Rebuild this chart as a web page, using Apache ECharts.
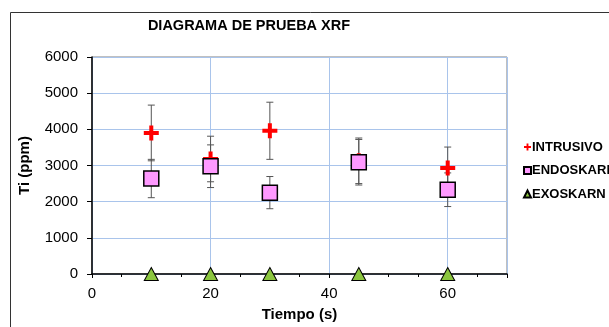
<!DOCTYPE html>
<html><head><meta charset="utf-8">
<script src="https://cdn.jsdelivr.net/npm/echarts@6/dist/echarts.min.js"></script>
<style>html,body{margin:0;padding:0;background:#fff}#c{width:609px;height:327px}</style>
</head><body><div id="c"></div>
<script>
const titleText = 'DIAGRAMA DE PRUEBA XRF';
const xName = 'Tiempo (s)';
const yName = 'Ti (ppm)';
const seriesNames = ['INTRUSIVO', 'ENDOSKARN', 'EXOSKARN'];
const intrusivoX = [10, 20, 30, 45, 60];
const intrusivoY = [3900, 3180, 3960, 3130, 2930];
const intrusivoErr = [770, 630, 790, 630, 580];
const endoskarnX = [10, 20, 30, 45, 60];
const endoskarnY = [2640, 2980, 2250, 3090, 2330];
const endoskarnErr = [530, 590, 445, 630, 465];
const exoskarnX = [10, 20, 30, 45, 60];
const exoskarnY = [0, 0, 0, 0, 0];

const crossPath = 'path://M5.5,0H9.5V5.5H15V9.5H9.5V15H5.5V9.5H0V5.5H5.5Z';
const font = 'Arial, "Liberation Sans", sans-serif';

function errData(xs, ys, es) {
  return xs.map((x, i) => [x, ys[i] - es[i], ys[i] + es[i]]);
}
function errRender(params, api) {
  const x = api.value(0);
  const lo = api.coord([x, api.value(1)]);
  const hi = api.coord([x, api.value(2)]);
  const w = 3.5;
  const st = {stroke: '#555', lineWidth: 1};
  return {type: 'group', children: [
    {type: 'line', shape: {x1: lo[0], y1: lo[1], x2: hi[0], y2: hi[1]}, style: st},
    {type: 'line', shape: {x1: lo[0]-w, y1: lo[1], x2: lo[0]+w, y2: lo[1]}, style: st},
    {type: 'line', shape: {x1: hi[0]-w, y1: hi[1], x2: hi[0]+w, y2: hi[1]}, style: st}
  ]};
}

const chart = echarts.init(document.getElementById('c'));
chart.setOption({
  animation: false,
  textStyle: {fontFamily: font},
  title: {text: titleText, left: 249, top: 18, textAlign: 'center', padding: 0,
    textStyle: {fontFamily: font, fontSize: 14.5, fontWeight: 'bold', color: '#000'}},
  graphic: [{type: 'rect', shape: {x: 10.5, y: 12.5, width: 620, height: 330},
    style: {fill: 'none', stroke: '#333', lineWidth: 1}, z: -10}],
  legend: {
    orient: 'vertical', left: 523, top: 140, padding: 0, itemGap: 9.5, itemWidth: 7, itemHeight: 7,
    data: [
      {name: seriesNames[0], icon: crossPath},
      {name: seriesNames[1], icon: 'rect'},
      {name: seriesNames[2], icon: 'triangle'}
    ],
    textStyle: {fontFamily: font, fontSize: 13, lineHeight: 14, fontWeight: 'bold', color: '#000', padding: [0,0,0,-4]}
  },
  grid: {left: 92, top: 57, width: 415, height: 220, show: true, borderColor: '#808080', borderWidth: 1},
  xAxis: {
    type: 'value', min: 0, max: 70, interval: 20,
    name: xName, nameLocation: 'middle', nameGap: 33,
    nameTextStyle: {fontFamily: font, fontSize: 15, fontWeight: 'bold', color: '#000'},
    axisLine: {show: true, lineStyle: {color: '#000', width: 1.5}},
    axisTick: {show: true, length: 4, lineStyle: {color: '#000'}},
    minorTick: {show: true, splitNumber: 4, length: 3, lineStyle: {color: '#000'}},
    axisLabel: {fontFamily: font, fontSize: 15, color: '#000', showMaxLabel: false, margin: 12},
    splitLine: {show: true, lineStyle: {color: '#A9C4EB', width: 1}}
  },
  yAxis: {
    type: 'value', min: 0, max: 6000, interval: 1000,
    name: yName, nameLocation: 'middle', nameGap: 60,
    nameTextStyle: {fontFamily: font, fontSize: 15, fontWeight: 'bold', color: '#000'},
    axisLine: {show: true, lineStyle: {color: '#000', width: 1.5}},
    axisTick: {show: true, length: 5, lineStyle: {color: '#000'}},
    axisLabel: {fontFamily: font, fontSize: 15, color: '#000', margin: 14, formatter: v => String(v)},
    splitLine: {show: true, lineStyle: {color: '#A9C4EB', width: 1}}
  },
  series: [
    {type: 'custom', name: 'errI', renderItem: errRender, data: errData(intrusivoX, intrusivoY, intrusivoErr), z: 1, silent: true},
    {type: 'custom', name: 'errE', renderItem: errRender, data: errData(endoskarnX, endoskarnY, endoskarnErr), z: 1, silent: true},
    {type: 'scatter', name: seriesNames[0], symbol: crossPath, symbolSize: 15,
      itemStyle: {color: '#FF0000', opacity: 1}, data: intrusivoX.map((x, i) => [x, intrusivoY[i]]), z: 3},
    {type: 'scatter', name: seriesNames[1], symbol: 'rect', symbolSize: 15,
      itemStyle: {color: '#FF99FF', borderColor: '#000', borderWidth: 1.5, opacity: 1}, data: endoskarnX.map((x, i) => [x, endoskarnY[i]]), z: 4},
    {type: 'scatter', name: seriesNames[2], symbol: 'triangle', symbolSize: [14, 13],
      itemStyle: {color: '#8CC63F', borderColor: '#000', borderWidth: 1, opacity: 1}, data: exoskarnX.map((x, i) => [x, exoskarnY[i]]), z: 5, clip: false}
  ]
});
</script></body></html>
